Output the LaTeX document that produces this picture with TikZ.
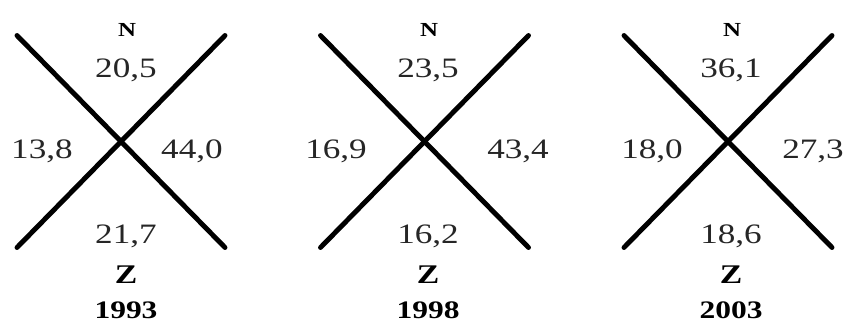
\documentclass[tikz,border=0pt]{standalone}
\usepackage{fontspec}
\setmainfont[FakeStretch=1.25]{Liberation Serif}
\tikzset{
  cross/.style={line width=4.2pt, line cap=round},
  val/.style={font=\fontsize{24}{24}\selectfont, text=black!85, inner sep=0pt, anchor=base},
  pole/.style={font=\fontsize{23}{23}\selectfont\bfseries, inner sep=0pt, anchor=base},
}
\begin{document}
\begin{tikzpicture}[x=0.03cm, y=-0.03cm]
    \useasboundingbox (0,0) rectangle (846,324);
    % 三个年份的十字图
    \foreach \cx/\tx/\lx/\rx/\nv/\wv/\ev/\sv/\yr [count=\i] in {
        121/126/42/192/{20,5}/{13,8}/{44,0}/{21,7}/1993,
        424.5/428/336/518/{23,5}/{16,9}/{43,4}/{16,2}/1998,
        728/731/652/813/{36,1}/{18,0}/{27,3}/{18,6}/2003}
    {
    \coordinate (c\i) at (\cx,142);
    % 交叉线
    \draw[cross] (\cx-104,35.5) -- (\cx+104,247.5);
    \draw[cross] (\cx-104,247.5) -- (\cx+104,35.5);
    % 标签
    \node[pole, font=\fontsize{17}{17}\selectfont\bfseries] (n\i) at (\tx+1,36.5) {N};
    \node[val] (top\i) at (\tx,77) {\nv};
    \node[val] (left\i) at (\lx,158) {\wv};
    \node[val] (right\i) at (\rx,158) {\ev};
    \node[val] (bot\i) at (\tx,243) {\sv};
    \node[pole] (z\i) at (\tx,283) {Z};
    \node[pole, font=\fontsize{21.5}{21.5}\selectfont\bfseries] (yr\i) at (\tx,318) {\yr};
    }
\end{tikzpicture}
\end{document}
